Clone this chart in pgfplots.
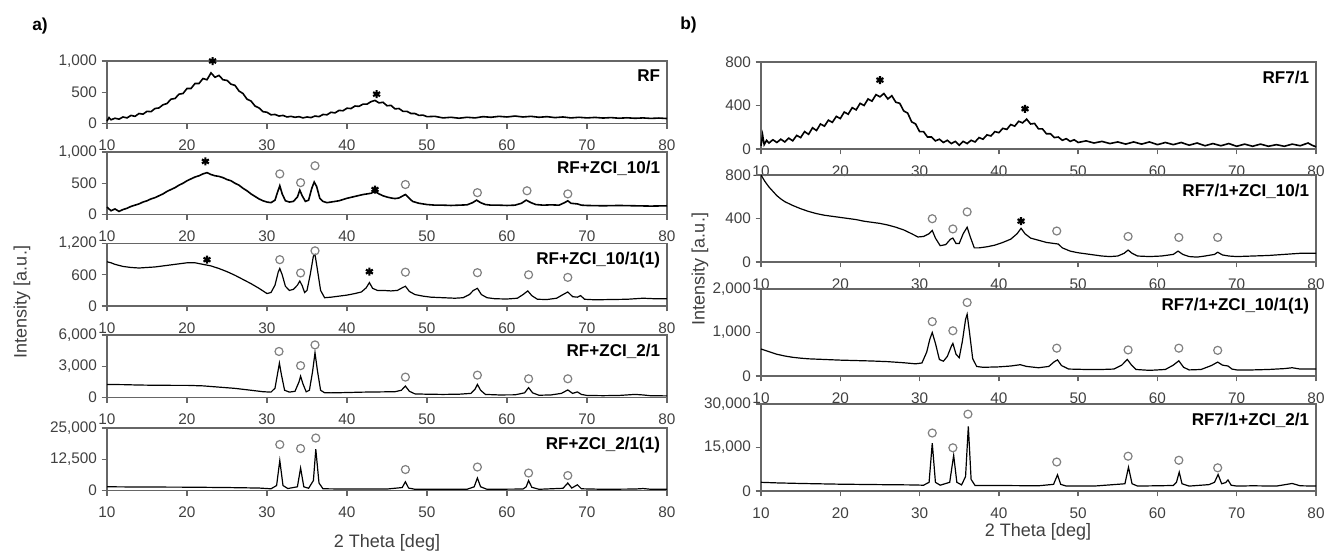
\documentclass[border=0pt]{standalone}
\usepackage{fontspec}
\setmainfont{Liberation Sans}
\usepackage{pgfplots}
\pgfplotsset{compat=1.18}

\definecolor{axgray}{HTML}{666666}
\definecolor{lblgray}{HTML}{404040}
\definecolor{ringgray}{HTML}{808080}

\tikzset{
  plab/.style={anchor=north east, inner sep=0pt, xshift=-5pt, yshift=-6.5pt,
    font=\bfseries\fontsize{12.8}{14}\selectfont},
}

\pgfplotsset{
  xrd/.style={
    scale only axis, anchor=north west,
    xmin=10, xmax=80, ymin=0,
    xtick={10,20,...,80},
    tick pos=left, tick align=outside,
    major tick length=4pt,
    axis line style={draw=axgray, line width=1.1pt},
    every tick/.style={draw=axgray, line width=1pt},
    ticklabel style={font=\fontsize{11.5}{12}\selectfont, text=lblgray},
    xticklabel style={yshift=-5pt},
    scaled y ticks=false,
    yticklabel style={/pgf/number format/.cd, fixed, 1000 sep={,}},
    /pgf/number format/assume math mode=true,
    clip=false,
  },
  lft/.style={xrd, width=420pt, height=46.9pt},
  rgt/.style={xrd, width=416.25pt, height=65.25pt},
  curve/.style={black, line width=0.9pt, mark=none},
  noisy/.style={black, line width=1.2pt, mark=none},
  stars/.style={only marks, mark=asterisk, mark size=3pt, black, line width=1.6pt},
  rings/.style={only marks, mark=o, mark size=3pt, ringgray, line width=0.9pt},
}

\begin{document}
\begin{tikzpicture}
\useasboundingbox (0,0) rectangle (993.75pt,-413.25pt);

% ---------------- panel a) ----------------
\node[anchor=north west, inner sep=0pt, font=\bfseries\fontsize{13}{14}\selectfont] at (32*0.75pt,-18*0.75pt) {a)};

\begin{axis}[lft, at={(107*0.75pt,-61*0.75pt)}, ymax=1000, ytick={0,500,1000}]
\addplot[noisy] coordinates {
(10,40) (10.25,95) (10.5,60) (11,85) (11.5,70) (12,105) (12.5,90) (13,130) (13.5,115) (14,160)
(14.5,150) (15,195) (15.5,190) (16,240) (16.5,250) (17,300) (17.5,320) (18,390) (18.5,400) (19,470)
(19.5,480) (20,560) (20.5,560) (21,640) (21.5,640) (22,720) (22.5,700) (23,810) (23.5,740) (24,770)
(24.5,700) (25,690) (25.5,630) (26,610) (26.5,520) (27,480) (27.5,390) (28,360) (28.5,280) (29,250)
(29.5,190) (30,180) (30.5,140) (31,145) (31.5,120) (32,130) (32.5,105) (33,115) (33.5,100) (34,110)
(34.5,90) (35,105) (35.5,95) (36,120) (36.5,110) (37,145) (37.5,140) (38,180) (38.5,170) (39,210)
(39.5,205) (40,245) (40.5,240) (41,280) (41.5,275) (42,310) (42.5,310) (43,350) (43.5,370) (44,330)
(44.5,340) (45,285) (45.5,290) (46,235) (46.5,240) (47,195) (47.5,195) (48,160) (48.5,160) (49,130)
(49.5,135) (50,110) (51,115) (52,90) (53,100) (54,85) (55,100) (56,90) (57,110) (58,100)
(59,115) (60,105) (61,120) (62,105) (63,115) (64,100) (65,110) (66,95) (67,105) (68,90)
(69,100) (70,90) (71,98) (72,88) (73,95) (74,85) (75,92) (76,84) (77,90) (78,82) (79,88) (80,80)
};
\addplot[stars] coordinates {(23.2,1000) (43.7,470)};
\node[plab] at (rel axis cs:1,1) {RF};
\end{axis}

\begin{axis}[lft, at={(107*0.75pt,-152*0.75pt)}, ymax=1000, ytick={0,500,1000}]
\addplot[noisy] coordinates {
(10,120) (10.5,60) (11,90) (11.5,50) (12,80) (12.5,100) (13,130) (13.5,150) (14,170) (14.5,200)
(15,220) (15.5,250) (16,270) (16.5,300) (17,330) (17.5,370) (18,400) (18.5,430) (19,470) (19.5,500)
(20,540) (20.5,570) (21,600) (21.5,620) (22,650) (22.5,670) (23,640) (23.5,620) (24,610) (24.5,590)
(25,560) (25.5,540) (26,500) (26.5,470) (27,420) (27.5,380) (28,330) (28.5,290) (29,250) (29.5,220)
(30,200) (30.5,190) (31,230) (31.3,350) (31.6,460) (31.9,330) (32.3,220) (32.8,200) (33.3,210) (33.8,280)
(34.1,390) (34.4,300) (34.8,210) (35.2,230) (35.6,420) (35.9,520) (36.2,450) (36.6,260) (37,210) (37.5,190)
(38,200) (39,220) (40,260) (41,290) (42,320) (42.5,330) (43,340) (43.5,370) (44,330) (44.5,300)
(45,280) (45.5,265) (46,255) (46.5,265) (47,300) (47.3,320) (47.7,270) (48.2,210) (49,180) (50,160)
(51,150) (52,150) (53,145) (54,150) (55,155) (55.7,190) (56.2,230) (56.7,190) (57.3,160) (58,150)
(59,150) (60,145) (61,150) (61.8,180) (62.4,230) (63,190) (63.6,160) (64.5,150) (65.5,155) (66.5,150)
(67.2,190) (67.6,220) (68,180) (68.8,170) (69.3,150) (70,145) (72,140) (74,145) (76,140) (78,135) (80,140)
};
\addplot[stars] coordinates {(22.3,850) (43.5,400)};
\addplot[rings] coordinates {(31.6,650) (34.2,510) (36,780) (47.3,480) (56.3,350) (62.5,380) (67.6,330)};
\node[plab] at (rel axis cs:1,1) {RF+ZCI\_10/1};
\end{axis}

\begin{axis}[lft, at={(107*0.75pt,-243.5*0.75pt)}, ymax=1200, ytick={0,600,1200}]
\addplot[curve] coordinates {
(10,850) (10.5,830) (11,800) (11.5,780) (12,760) (13,740) (14,730) (15,740) (16,750) (17,770)
(18,790) (19,810) (20,830) (21,830) (22,800) (23,770) (24,720) (25,660) (26,590) (27,510)
(28,430) (29,340) (29.5,290) (30,240) (30.5,260) (31,400) (31.4,650) (31.6,720) (31.9,600) (32.3,380)
(32.8,300) (33.3,320) (33.8,400) (34.1,480) (34.4,390) (34.7,260) (35,300) (35.4,600) (35.8,960) (36,990)
(36.3,700) (36.7,300) (37.2,160) (38,170) (39,190) (40,210) (41,240) (41.8,270) (42.4,350) (42.8,450)
(43.2,340) (43.8,300) (44.5,300) (45.5,290) (46.3,300) (46.9,350) (47.3,380) (47.8,280) (48.5,220) (49.5,190)
(50.5,170) (52,160) (53.5,150) (54.5,160) (55.3,220) (55.8,300) (56.3,340) (56.8,220) (57.5,160) (58.5,140)
(60,135) (61.3,150) (62,220) (62.6,290) (63.1,200) (63.8,130) (65,125) (66.2,150) (67,220) (67.6,270)
(68.2,180) (68.8,170) (69.2,200) (69.7,130) (71,120) (73,125) (75,130) (77,150) (78.5,140) (80,140)
};
\addplot[stars] coordinates {(22.5,890) (42.8,660)};
\addplot[rings] coordinates {(31.6,890) (34.2,635) (36,1060) (47.3,650) (56.3,640) (62.7,600) (67.6,550)};
\node[plab] at (rel axis cs:1,1) {RF+ZCI\_10/1(1)};
\end{axis}

\begin{axis}[lft, at={(107*0.75pt,-335*0.75pt)}, ymax=6000, ytick={0,3000,6000}]
\addplot[curve] coordinates {
(10,1250) (12,1240) (14,1200) (16,1180) (18,1170) (20,1170) (22,1120) (24,1000) (26,880) (28,700)
(29.5,560) (30.5,520) (31,900) (31.3,2200) (31.55,3300) (31.8,2200) (32.2,700) (32.8,520) (33.5,600) (34,1500)
(34.2,2050) (34.5,1300) (34.9,550) (35.3,700) (35.7,2500) (36,4300) (36.3,2600) (36.7,700) (37.2,460) (38,450)
(40,480) (42,520) (44,540) (46,560) (46.8,700) (47.3,1100) (47.8,600) (48.5,350) (50,320) (52,300)
(54,320) (55.5,400) (56,800) (56.3,1260) (56.7,700) (57.3,300) (59,250) (61,260) (62.2,450) (62.7,950)
(63.2,450) (64,220) (65.5,250) (66.8,400) (67.6,730) (68.2,400) (68.8,540) (69.3,300) (70,200) (72,180)
(74,200) (76,300) (77,250) (78,170) (80,160)
};
\addplot[rings] coordinates {(31.5,4420) (34.2,3060) (36,5050) (47.3,1960) (56.3,2150) (62.7,1800) (67.6,1800)};
\node[plab] at (rel axis cs:1,1) {RF+ZCI\_2/1};
\end{axis}

\begin{axis}[lft, at={(107*0.75pt,-428*0.75pt)}, ymax=25000, ytick={0,12500,25000}]
\addplot[curve] coordinates {
(10,1500) (15,1400) (20,1350) (25,1200) (29,1000) (30.5,700) (31.2,2000) (31.6,12000) (32,2000) (32.6,800)
(33.8,1500) (34.2,9000) (34.6,1500) (35.2,900) (35.8,4000) (36.1,16500) (36.5,3000) (37,700) (40,600) (45,600)
(46.9,1200) (47.3,3500) (47.7,1000) (48.5,500) (55,500) (55.9,1500) (56.3,5000) (56.7,1500) (57.5,500) (62,600)
(62.4,1500) (62.7,4000) (63.1,1300) (64,500) (67,900) (67.6,3000) (68.1,1000) (68.8,2300) (69.3,700) (72,500)
(76,600) (77,800) (78,500) (80,500)
};
\addplot[rings] coordinates {(31.6,18400) (34.2,16800) (36.1,21000) (47.3,8400) (56.3,9400) (62.7,7000) (67.6,6000)};
\node[plab] at (rel axis cs:1,1) {RF+ZCI\_2/1(1)};
\end{axis}

\node[rotate=90, font=\fontsize{13.5}{15}\selectfont, text=lblgray] at (22*0.75pt,-302*0.75pt) {Intensity [a.u.]};
\node[font=\fontsize{13.5}{15}\selectfont, text=lblgray] at (387*0.75pt,-543*0.75pt) {2 Theta [deg]};

% ---------------- panel b) ----------------
\node[anchor=north west, inner sep=0pt, font=\bfseries\fontsize{13}{14}\selectfont] at (680*0.75pt,-17*0.75pt) {b)};

\begin{axis}[rgt, at={(761*0.75pt,-62*0.75pt)}, ymax=800, ytick={0,400,800}]
\addplot[noisy] coordinates {
(10,30) (10.2,130) (10.4,40) (10.7,80) (11,55) (11.5,85) (12,60) (12.5,90) (13,65) (13.5,100)
(14,75) (14.5,125) (15,105) (15.5,160) (16,135) (16.5,195) (17,170) (17.5,230) (18,210) (18.5,265)
(19,245) (19.5,300) (20,280) (20.5,340) (21,320) (21.5,380) (22,360) (22.5,420) (23,400) (23.5,460)
(24,440) (24.5,500) (25,480) (25.5,510) (26,460) (26.5,490) (27,430) (27.5,420) (28,350) (28.5,330)
(29,250) (29.5,230) (30,160) (30.5,160) (31,110) (31.5,110) (32,75) (32.5,90) (33,60) (33.5,80)
(34,50) (34.5,70) (35,35) (35.5,70) (36,50) (36.5,80) (37,65) (37.5,105) (38,90) (38.5,130)
(39,120) (39.5,160) (40,150) (40.5,190) (41,180) (41.5,225) (42,210) (42.5,255) (43,240) (43.5,275)
(44,230) (44.5,235) (45,185) (45.5,185) (46,140) (46.5,140) (47,105) (47.5,110) (48,80) (48.5,95)
(49,70) (49.5,85) (50,60) (51,75) (52,55) (53,70) (54,50) (55,65) (56,45) (57,65)
(58,45) (59,65) (60,40) (61,60) (62,40) (63,60) (64,35) (65,55) (66,30) (67,50)
(68,30) (69,50) (70,25) (71,45) (72,25) (73,45) (74,25) (75,40) (76,25) (77,45)
(78,30) (79,55) (79.5,35) (80,20)
};
\addplot[stars] coordinates {(25,634) (43.3,370)};
\node[plab] at (rel axis cs:1,1) {RF7/1};
\end{axis}

\begin{axis}[rgt, at={(761*0.75pt,-175*0.75pt)}, ymax=800, ytick={0,400,800}]
\addplot[curve] coordinates {
(10,800) (10.5,740) (11,690) (11.5,650) (12,610) (12.5,580) (13,555) (14,520) (15,490) (16,465)
(17,445) (18,430) (19,420) (20,410) (21,400) (22,390) (23,375) (24,365) (25,355) (26,340)
(27,320) (28,295) (29,260) (29.8,230) (30.5,235) (31.2,260) (31.6,290) (32,220) (32.6,150) (33.3,160)
(33.9,210) (34.2,220) (34.6,170) (35,170) (35.5,260) (36,320) (36.4,230) (36.9,130) (37.5,130) (38.5,140)
(39.5,155) (40.5,180) (41.5,210) (42.3,260) (42.8,310) (43.3,260) (44,220) (45,200) (46,180) (47,170)
(47.5,165) (48,130) (49,100) (50,85) (51,75) (52,65) (53,55) (54,50) (55,55) (55.8,80)
(56.3,110) (56.8,80) (57.5,55) (59,50) (60.5,55) (62,70) (62.6,100) (63.2,70) (64,50) (65,45)
(66,55) (67.2,70) (67.6,90) (68.2,65) (69,55) (70,50) (72,55) (74,60) (76,70) (78,80) (80,80)
};
\addplot[stars] coordinates {(42.8,376)};
\addplot[rings] coordinates {(31.6,398) (34.2,304) (36,461) (47.3,285) (56.3,235) (62.7,226) (67.6,226)};
\node[plab] at (rel axis cs:1,1) {RF7/1+ZCI\_10/1};
\end{axis}

\begin{axis}[rgt, at={(761*0.75pt,-289*0.75pt)}, ymax=2000, ytick={0,1000,2000}]
\addplot[curve] coordinates {
(10,620) (11,560) (12,500) (13,460) (14,430) (15,410) (16,395) (18,380) (20,365) (22,355)
(24,345) (26,330) (28,305) (29.5,280) (30.3,300) (30.9,550) (31.3,850) (31.6,1000) (32,750) (32.5,380)
(33,340) (33.5,450) (34,680) (34.2,750) (34.6,500) (35,420) (35.4,800) (35.8,1300) (36,1420) (36.3,1000)
(36.7,400) (37.2,220) (38,200) (40,210) (41.5,230) (42.7,260) (43.5,220) (45,190) (46.3,220) (47,330)
(47.4,370) (47.9,240) (48.8,160) (51,150) (53,150) (54.5,160) (55.5,250) (56.2,380) (56.7,260) (57.3,150)
(59,130) (61,150) (62,250) (62.7,350) (63.3,200) (64,140) (65.5,150) (66.8,240) (67.6,320) (68.2,250)
(68.9,230) (69.4,160) (70,140) (72,140) (74,150) (76,170) (77,190) (78,160) (80,160)
};
\addplot[rings] coordinates {(31.6,1250) (34.2,1040) (36,1690) (47.3,640) (56.3,600) (62.7,640) (67.6,590)};
\node[plab] at (rel axis cs:1,1) {RF7/1+ZCI\_10/1(1)};
\end{axis}

\begin{axis}[rgt, at={(761*0.75pt,-404*0.75pt)}, ymax=30000, ytick={0,15000,30000}]
\addplot[curve] coordinates {
(10,3000) (12,2800) (15,2600) (18,2450) (20,2350) (25,2200) (29,2100) (30.5,2000) (31.2,3000) (31.6,16500)
(32,3000) (32.6,2000) (33.8,3000) (34.3,12300) (34.7,3000) (35.3,2100) (35.8,5000) (36.15,22300) (36.5,4000) (37,1900)
(40,1900) (45,1800) (46.9,2300) (47.4,5600) (47.8,2300) (48.5,1700) (52,1700) (55.9,2500) (56.35,8200) (56.8,2500)
(57.5,1700) (62,1900) (62.4,3000) (62.75,6500) (63.1,2500) (64,1700) (66.5,2200) (67.2,3000) (67.65,5700) (68.1,2500)
(68.6,2900) (68.9,3800) (69.3,2000) (70,1700) (72,1800) (75,1700) (77,2600) (78,1800) (80,1700)
};
\addplot[rings] coordinates {(31.6,20000) (34.2,14900) (36.1,26500) (47.3,10000) (56.3,12000) (62.7,10600) (67.6,8000)};
\node[plab] at (rel axis cs:1,1) {RF7/1+ZCI\_2/1};
\end{axis}

\node[rotate=90, font=\fontsize{13.5}{15}\selectfont, text=lblgray] at (700*0.75pt,-269*0.75pt) {Intensity [a.u.]};
\node[font=\fontsize{13.5}{15}\selectfont, text=lblgray] at (1038*0.75pt,-532*0.75pt) {2 Theta [deg]};

\end{tikzpicture}
\end{document}
